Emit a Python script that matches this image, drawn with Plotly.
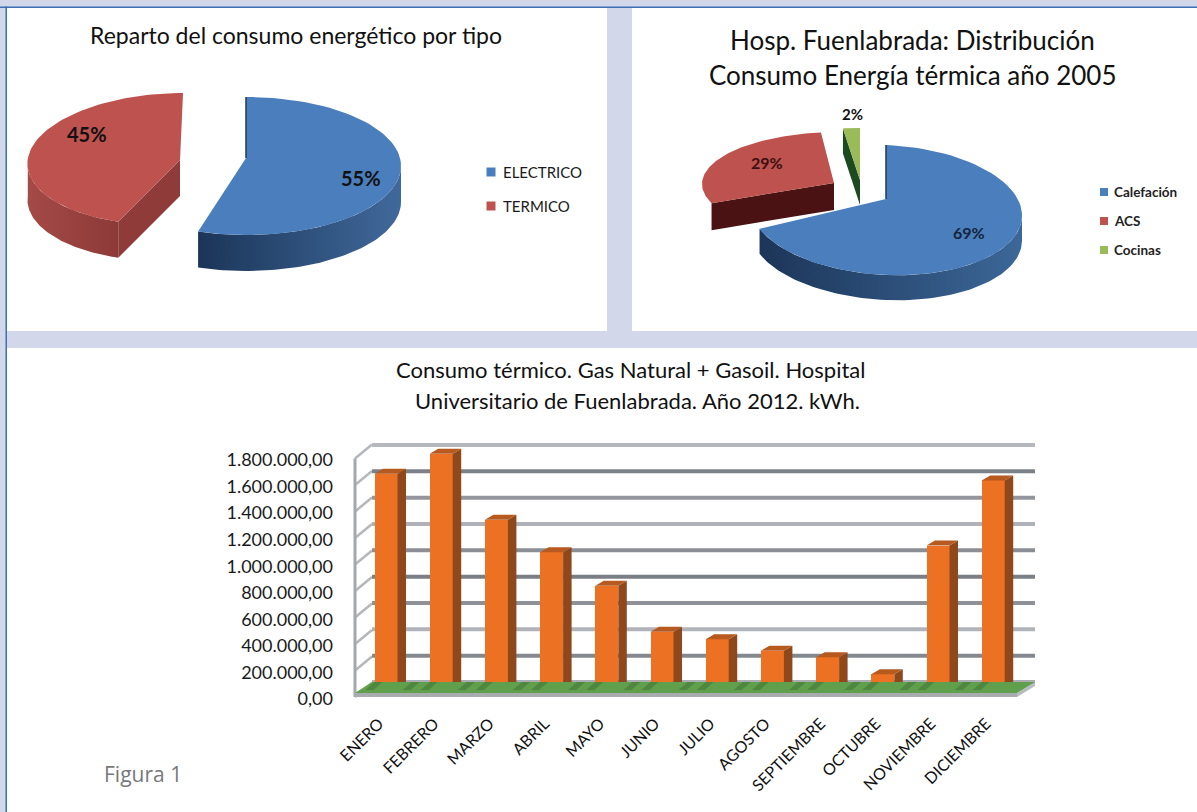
import numpy as np
import plotly.graph_objects as go

# ---- data ----
TIPO_LABELS = ["ELECTRICO", "TERMICO"]
TIPO_VALUES = [55, 45]
USO_LABELS = ["Calefación", "ACS", "Cocinas"]
USO_VALUES = [69, 29, 2]
MESES = ["ENERO", "FEBRERO", "MARZO", "ABRIL", "MAYO", "JUNIO", "JULIO",
         "AGOSTO", "SEPTIEMBRE", "OCTUBRE", "NOVIEMBRE", "DICIEMBRE"]
CONSUMO_KWH = [1655000, 1807000, 1306000, 1060000, 804000, 456000,
               398000, 312000, 262000, 132000, 1110000, 1605000]
TICK_VALUES = [0, 200000, 400000, 600000, 800000, 1000000, 1200000,
               1400000, 1600000, 1800000]
TICK_LABELS = ["0,00", "200.000,00", "400.000,00", "600.000,00", "800.000,00",
               "1.000.000,00", "1.200.000,00", "1.400.000,00", "1.600.000,00",
               "1.800.000,00"]
GRID_COLORS = ["#A9ACB2", "#84888F", "#B0B3B9", "#8E9198", "#7A7E85",
               "#8B8E95", "#AFB2B8", "#93969D", "#7C8087", "#B5B8BD"]

W, H = 1197, 812
FONT = "Lato"
BLUE, RED, GREEN = "#4A7EBD", "#BE524F", "#9BBB59"
LAVENDER = "#D3D7EA"


def py(px):
    """Page pixel row to paper fraction."""
    return 1 - px / H


def px_frac(px):
    return px / W


def rim(v0, v1, g, n=80):
    """Rim of an elliptical slice between two cumulative percentages."""
    t = np.radians(np.linspace(v0, v1, n) * 3.6)
    y = g["cy"] - g["b"] * np.cos(t)
    x = g["cx"] + g["a"] * np.sin(t) + g.get("shear", 0) * (y - g["cy"])
    y = y + g.get("tilt", 0) * (x - g["cx"])
    return x, y


def page_poly(x, y, color=None, gradient=None):
    kw = dict(x=list(x), y=list(y), mode="lines", fill="toself", line=dict(width=0),
              hoverinfo="skip", showlegend=False, xaxis="x", yaxis="y")
    if gradient:
        kw["fillgradient"] = dict(type="horizontal",
                                  colorscale=[[0, gradient[0]], [1, gradient[1]]])
    else:
        kw["fillcolor"] = color
    return go.Scatter(**kw)


def wall(v0, v1, g, depth, gradient):
    x, y = rim(v0, v1, g)
    return page_poly(np.r_[x, x[::-1]], np.r_[y, y[::-1] + depth], gradient=gradient)


def top_face(v0, v1, g, apex, color):
    x, y = rim(v0, v1, g)
    return page_poly(np.r_[apex[0], x, apex[0]], np.r_[apex[1], y, apex[1]], color=color)


def radial_face(v, g, apex, depth, color):
    x, y = rim(v, v, g, 1)
    return page_poly([apex[0], x[0], x[0], apex[0], apex[0]],
                     [apex[1], y[0], y[0] + depth, apex[1] + depth, apex[1]], color=color)


traces = []

# ---- left pie: consumption by type ----
cum = np.cumsum(TIPO_VALUES)
g_elec = dict(cx=246, cy=166, a=155, b=69)
apex_elec = (246, 158)
g_term = dict(cx=172.8, cy=159, a=145, b=66, shear=-0.155)
apex_term = (180, 160)
DEPTH_A = 36
traces.append(wall(25, cum[0], g_elec, DEPTH_A, ("#1B3558", "#40699B")))
traces.append(top_face(0, cum[0], g_elec, apex_elec, BLUE))
rx, ry = rim(0, 0, g_elec, 1)
traces.append(go.Scatter(x=[rx[0], apex_elec[0]], y=[ry[0], apex_elec[1]], mode="lines",
                         line=dict(color="#1F3A5F", width=1.5), hoverinfo="skip",
                         showlegend=False, xaxis="x", yaxis="y"))
traces.append(wall(cum[0], 75, g_term, DEPTH_A, ("#A44A47", "#8C3A38")))
traces.append(radial_face(cum[0], g_term, apex_term, DEPTH_A, "#8E3B39"))
traces.append(top_face(cum[0], 100, g_term, apex_term, RED))

# ---- right pie: thermal use ----
cum2 = np.cumsum(USO_VALUES)
g_cal = dict(cx=886, cy=210, a=136, b=65, tilt=0.04)
apex_cal = (886, 199)
g_acs = dict(cx=838, cy=184, a=136, b=52)
apex_acs = (834, 183)
g_coc = dict(cx=860, cy=180, a=136, b=52)
apex_coc = (860, 180)
DEPTH_B = 25
traces.append(wall(25, cum2[0], g_cal, DEPTH_B, ("#1C3558", "#3C6798")))
traces.append(top_face(0, cum2[0], g_cal, apex_cal, BLUE))
rx, ry = rim(0, 0, g_cal, 1)
traces.append(go.Scatter(x=[rx[0], apex_cal[0]], y=[ry[0], apex_cal[1]], mode="lines",
                         line=dict(color="#1F3A5F", width=1.5), hoverinfo="skip",
                         showlegend=False, xaxis="x", yaxis="y"))
traces.append(radial_face(cum2[0], g_acs, apex_acs, DEPTH_B + 2, "#4A1212"))
traces.append(top_face(cum2[0], cum2[1], g_acs, apex_acs, RED))
traces.append(radial_face(cum2[1], g_coc, apex_coc, DEPTH_B, "#1E4A22"))
traces.append(top_face(cum2[1], 100, g_coc, apex_coc, GREEN))

# ---- pie legends ----
for labels, colors, x0, rows, size in [
    (TIPO_LABELS, [BLUE, RED], 491, [172, 206], 15),
    (USO_LABELS, [BLUE, RED, GREEN], 1104, [192, 221, 250], 13.5),
]:
    traces.append(go.Scatter(
        x=[x0] * len(labels), y=rows, mode="markers", xaxis="x", yaxis="y",
        marker=dict(symbol="square", size=9 if size > 14 else 8, color=colors),
        hoverinfo="skip", showlegend=False))

# ---- 3D bar frame: floor and left wall ----
STEP_X = 55.2
STEP_Y = 26.33
FRONT_L, FRONT_R, BACK_L, BACK_R = 355, 1017, 372, 1035
FLOOR_FRONT, FLOOR_BACK, BASE = 693, 682, 697

for v in TICK_VALUES:
    yf = BASE - v / 200000 * 26.5
    traces.append(go.Scatter(x=[FRONT_L, BACK_L], y=[yf, yf - 14], mode="lines",
                             line=dict(color="#B4B7BC", width=2.5), hoverinfo="skip",
                             showlegend=False, xaxis="x", yaxis="y"))
traces.append(go.Scatter(x=[FRONT_L, FRONT_L], y=[BASE - 1.8 * 5 * 26.5, BASE], mode="lines",
                         line=dict(color="#A4A7AD", width=3), hoverinfo="skip",
                         showlegend=False, xaxis="x", yaxis="y"))

# ---- back wall grid, on its own value axis ----
for v, c in zip(TICK_VALUES, GRID_COLORS):
    traces.append(go.Scatter(x=[0, 1], y=[v, v], mode="lines", line=dict(color=c, width=4),
                             hoverinfo="skip", showlegend=False, xaxis="x2", yaxis="y2"))

# floor sits on a later page-scale layer so it covers the lowest grid line
traces.append(go.Scatter(
    x=[FRONT_L, FRONT_R, FRONT_R, FRONT_L, FRONT_L], y=[BASE, BASE, FLOOR_FRONT, FLOOR_FRONT, BASE],
    mode="lines", fill="toself", fillcolor="#A8ABB0", line=dict(width=0), hoverinfo="skip",
    showlegend=False, xaxis="x5", yaxis="y5"))
traces.append(go.Scatter(
    x=[FRONT_R, BACK_R, BACK_R, FRONT_R, FRONT_R], y=[BASE, FLOOR_BACK + 4, FLOOR_BACK, FLOOR_FRONT, BASE],
    mode="lines", fill="toself", fillcolor="#B8BBC0", line=dict(width=0), hoverinfo="skip",
    showlegend=False, xaxis="x5", yaxis="y5"))
traces.append(go.Scatter(
    x=[FRONT_L, FRONT_R, BACK_R, BACK_L, FRONT_L],
    y=[FLOOR_FRONT, FLOOR_FRONT, FLOOR_BACK, FLOOR_BACK, FLOOR_FRONT],
    mode="lines", fill="toself", fillcolor="#609F4B", line=dict(width=0), hoverinfo="skip",
    showlegend=False, xaxis="x5", yaxis="y5"))
sx, sy = [], []
for i in range(len(MESES)):
    for c in (386 + STEP_X * i - STEP_X / 2 - 6, 386 + STEP_X * i - STEP_X / 2 + 12):
        if c - 5 < FRONT_L:
            continue
        sx += [c - 5, c + 3, c + 12, c + 4, None]
        sy += [FLOOR_FRONT - 3, FLOOR_FRONT - 3, FLOOR_BACK, FLOOR_BACK, None]
traces.append(go.Scatter(x=sx, y=sy, mode="lines", fill="toself", fillcolor="#4F8640",
                         line=dict(width=0), hoverinfo="skip", showlegend=False,
                         xaxis="x5", yaxis="y5"))

# ---- axis labels: invisible anchor trace for the label axes ----
traces.append(go.Scatter(x=[0], y=[0], mode="markers", marker=dict(opacity=0), hoverinfo="skip",
                         showlegend=False, xaxis="x3", yaxis="y3"))

# ---- bars with depth faces, all in data units ----
idx = np.arange(len(MESES))
BAR_W = 23 / STEP_X
DX = 8.5 / STEP_X
DY = 5 / STEP_Y * 200000
traces.append(go.Bar(x=idx, y=CONSUMO_KWH, width=BAR_W, marker=dict(color="#EC7123", line=dict(width=0)),
                     hovertemplate="%{y:,.0f} kWh<extra></extra>", showlegend=False,
                     xaxis="x4", yaxis="y4"))
side_x, side_y, top_x, top_y = [], [], [], []
for i, v in zip(idx, CONSUMO_KWH):
    r = i + BAR_W / 2
    l = i - BAR_W / 2
    side_x += [r, r, r + DX, r + DX, r, None]
    side_y += [0, v, v + DY, DY, 0, None]
    top_x += [l, r, r + DX, l + DX, l, None]
    top_y += [v, v, v + DY, v + DY, v, None]
traces.append(go.Scatter(x=side_x, y=side_y, mode="lines", fill="toself", fillcolor="#8F481B",
                         line=dict(width=0), hoverinfo="skip", showlegend=False,
                         xaxis="x4", yaxis="y4"))
traces.append(go.Scatter(x=top_x, y=top_y, mode="lines", fill="toself", fillcolor="#B65A20",
                         line=dict(width=0), hoverinfo="skip", showlegend=False,
                         xaxis="x4", yaxis="y4"))

fig = go.Figure(traces)

# ---- panels ----
shapes = [
    dict(type="rect", xref="paper", yref="paper", x0=px_frac(7), x1=px_frac(607), y0=py(331), y1=py(8),
         fillcolor="white", line=dict(width=0), layer="below"),
    dict(type="rect", xref="paper", yref="paper", x0=px_frac(632), x1=1, y0=py(331), y1=py(8),
         fillcolor="white", line=dict(width=0), layer="below"),
    dict(type="rect", xref="paper", yref="paper", x0=px_frac(7), x1=1, y0=0, y1=py(348),
         fillcolor="white", line=dict(width=0), layer="below"),
    dict(type="rect", xref="paper", yref="paper", x0=0, x1=1, y0=py(8), y1=py(6.5),
         fillcolor="#3F6FB5", line=dict(width=0), layer="below"),
    dict(type="rect", xref="paper", yref="paper", x0=px_frac(5.5), x1=px_frac(7), y0=0, y1=py(6.5),
         fillcolor="#3F6FB5", line=dict(width=0), layer="below"),
]


def note(text, x, y, size, color="#111111", bold=False, anchor="center", family=FONT):
    t = f"<b>{text}</b>" if bold else text
    return dict(text=t, x=x / W, y=py(y), xref="paper", yref="paper", xanchor=anchor, yanchor="middle",
                showarrow=False, font=dict(family=family, size=size, color=color))


annotations = [
    note("Reparto del consumo energético por tipo", 296, 35, 23),
    note("Hosp. Fuenlabrada: Distribución", 912, 40, 26),
    note("Consumo Energía térmica año 2005", 913, 75, 26),
    note("Consumo térmico. Gas Natural + Gasoil. Hospital", 630, 370, 22),
    note("Universitario de Fuenlabrada. Año 2012. kWh.", 637, 400, 22),
    note(f"{TIPO_VALUES[1]}%", 87, 134, 20, bold=True),
    note(f"{TIPO_VALUES[0]}%", 361, 178, 20, bold=True),
    note(f"{USO_VALUES[1]}%", 767, 162, 16, color="#3A1010", bold=True),
    note(f"{USO_VALUES[0]}%", 969, 232, 16, color="#14243C", bold=True),
    note(f"{USO_VALUES[2]}%", 852, 114, 15, bold=True),
    note("Figura 1", 102, 774, 21, color="#77787B", anchor="left", family="Open Sans"),
]
for lab, y in zip(TIPO_LABELS, [172, 206]):
    annotations.append(note(lab, 501, y, 15, color="#1A1A1A", anchor="left"))
for lab, y in zip(USO_LABELS, [192, 221, 250]):
    annotations.append(note(lab, 1112, y, 13.5, color="#222222", bold=True, anchor="left"))


def value_range(zero_px, step_px, top_px, bottom_px):
    return [(zero_px - bottom_px) / step_px * 200000, (zero_px - top_px) / step_px * 200000]


hidden = dict(visible=False, fixedrange=True, showgrid=False, zeroline=False)
PLOT_L, PLOT_R = FRONT_L, BACK_R
x_bar_range = [(PLOT_L - 386) / STEP_X, (PLOT_R - 386) / STEP_X]
LABEL_SHIFT = 7

fig.update_layout(
    width=W, height=H, margin=dict(l=0, r=0, t=0, b=0, autoexpand=False), autosize=False,
    paper_bgcolor=LAVENDER, plot_bgcolor="rgba(0,0,0,0)", showlegend=False,
    font=dict(family=FONT, color="#111111"), shapes=shapes, annotations=annotations,
    bargap=0,
    xaxis=dict(domain=[0, 1], range=[0, W], **hidden),
    yaxis=dict(domain=[0, 1], range=[H, 0], **hidden),
    # back wall plane
    xaxis2=dict(domain=[px_frac(BACK_L), px_frac(BACK_R)], range=[0, 1], anchor="y2", **hidden),
    yaxis2=dict(domain=[py(700), py(430)], range=value_range(682, STEP_Y, 430, 700), anchor="x2", **hidden),
    # month labels, set slightly left of the bars they name
    xaxis3=dict(domain=[px_frac(PLOT_L - LABEL_SHIFT), px_frac(PLOT_R - LABEL_SHIFT)], range=x_bar_range,
                anchor="free", position=py(704),
                tickmode="array", tickvals=list(idx), ticktext=MESES, tickangle=-45,
                tickfont=dict(family=FONT, size=16, color="#111111"),
                ticks="outside", ticklen=3, tickcolor="rgba(0,0,0,0)", showline=False,
                showgrid=False, zeroline=False, fixedrange=True),
    # value labels, aligned with the front edge of the wall
    yaxis3=dict(domain=[py(710), py(450)], range=value_range(699, 26.55, 450, 710),
                anchor="free", position=px_frac(333), side="left",
                tickmode="array", tickvals=TICK_VALUES, ticktext=TICK_LABELS,
                tickfont=dict(family=FONT, size=18, color="#1A1A1A"),
                showgrid=False, zeroline=False, showline=False, ticks="", fixedrange=True),
    # bars
    xaxis4=dict(domain=[px_frac(PLOT_L), px_frac(PLOT_R)], range=x_bar_range, anchor="y4", **hidden),
    yaxis4=dict(domain=[py(700), py(430)], range=value_range(691.7, STEP_Y, 430, 700), anchor="x4", **hidden),
    # floor layer, page scale
    xaxis5=dict(domain=[0, 1], range=[0, W], anchor="y5", **hidden),
    yaxis5=dict(domain=[0, 1], range=[H, 0], anchor="x5", **hidden),
)

fig.write_html("out.html")
